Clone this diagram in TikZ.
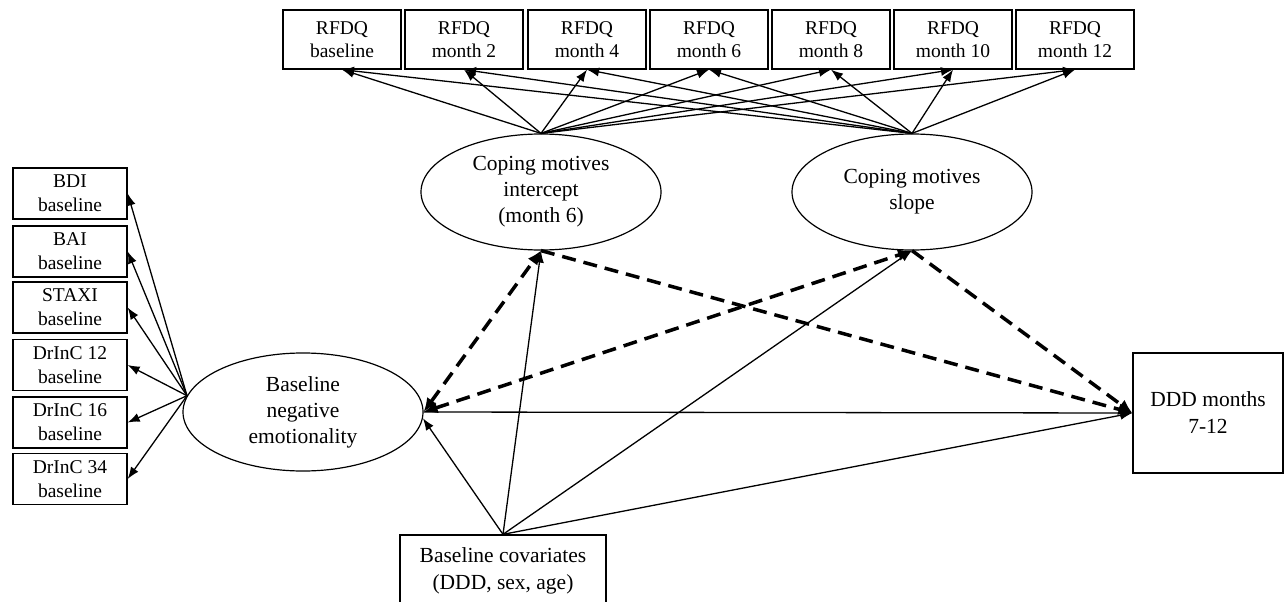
\documentclass[tikz,border=0pt]{standalone}
\usepackage{fontspec}
\setmainfont{Liberation Serif}
\usetikzlibrary{shapes.geometric,arrows.meta}

\begin{document}
\begin{tikzpicture}[x=1pt,y=-1pt,
  rfdq/.style={draw,line width=1.3pt,minimum width=118pt,minimum height=59pt,inner sep=0pt,align=center,font=\fontsize{19.5}{23}\selectfont},
  indic/.style={draw,line width=1.3pt,minimum width=114pt,minimum height=51pt,inner sep=0pt,align=center,font=\fontsize{19.5}{24}\selectfont},
  latent/.style={draw,ellipse,line width=1.2pt,minimum width=240pt,minimum height=116pt,inner sep=0pt,align=center,font=\fontsize{21.5}{26}\selectfont},
  bigbox/.style={draw,line width=1.3pt,inner sep=0pt,align=center,font=\fontsize{21.5}{27}\selectfont},
  path/.style={line width=1.3pt,-{Latex[length=12pt,width=9pt]}},
  medpath/.style={line width=3.5pt,dash pattern=on 14pt off 8pt,-{Latex[length=14pt,width=12pt]}},
  twoway/.style={medpath,{Latex[length=14pt,width=12pt]}-{Latex[length=14pt,width=12pt]}}]
\useasboundingbox (0,0) rectangle (1285,602);

% RFDQ waves
\node[rfdq] (r0) at (342,39.5) {RFDQ\\baseline};
\node[rfdq] (r2) at (464,39.5) {RFDQ\\month 2};
\node[rfdq] (r4) at (587,39.5) {RFDQ\\month 4};
\node[rfdq] (r6) at (709,39.5) {RFDQ\\month 6};
\node[rfdq] (r8) at (831,39.5) {RFDQ\\month 8};
\node[rfdq] (r10) at (953,39.5) {RFDQ\\month 10};
\node[rfdq] (r12) at (1075,39.5) {RFDQ\\month 12};

% growth factors
\node[latent] (icpt) at (541,192) {Coping motives\\intercept\\(month 6)};
\node[latent] (slope) at (912,192) {Coping motives\\slope};

% negative emotionality
\node[latent,minimum height=118pt] (negemo) at (303,412) {Baseline\\negative\\emotionality};
\node[indic] (bdi) at (70,193.5) {BDI\\baseline};
\node[indic] (bai) at (70,251.5) {BAI\\baseline};
\node[indic] (staxi) at (70,307.5) {STAXI\\baseline};
\node[indic] (dr12) at (70,365) {DrInC 12\\baseline};
\node[indic] (dr16) at (70,422.5) {DrInC 16\\baseline};
\node[indic] (dr34) at (70,479) {DrInC 34\\baseline};

% outcome and covariates
\node[bigbox,minimum width=150pt,minimum height=120pt] (ddd) at (1208,413) {DDD months\\7-12};
\node[bigbox,minimum width=206pt,minimum height=71pt] (cov) at (503,570.5) {Baseline covariates\\(DDD, sex, age)};

% loadings
\draw[path] (icpt.north) -- (r0.south);
\draw[path] (icpt.north) -- (r2.south);
\draw[path] (icpt.north) -- (r4.south);
\draw[path] (icpt.north) -- (r6.south);
\draw[path] (icpt.north) -- (r8.south);
\draw[path] (icpt.north) -- (r10.south);
\draw[path] (icpt.north) -- (r12.south);
\draw[path] (slope.north) -- (r0.south);
\draw[path] (slope.north) -- (r2.south);
\draw[path] (slope.north) -- (r4.south);
\draw[path] (slope.north) -- (r6.south);
\draw[path] (slope.north) -- (r8.south);
\draw[path] (slope.north) -- (r10.south);
\draw[path] (slope.north) -- (r12.south);
\draw[path] (negemo.172) -- (bdi.east);
\draw[path] (negemo.172) -- (bai.east);
\draw[path] (negemo.172) -- (staxi.east);
\draw[path] (negemo.172) -- (dr12.east);
\draw[path] (negemo.172) -- (dr16.east);
\draw[path] (negemo.172) -- (dr34.east);

% covariates
\draw[path] (cov.north) -- (negemo.-3);
\draw[path] (cov.north) -- (icpt.south);
\draw[path] (cov.north) -- (slope.south);
\draw[path] (cov.north) -- (ddd.west);

% direct and mediated paths
\draw[path] (negemo.east) -- (ddd.west);
\draw[twoway] (negemo.east) -- (icpt.south);
\draw[twoway] (negemo.east) -- (slope.south);
\draw[medpath] (icpt.south) -- (ddd.west);
\draw[medpath] (slope.south) -- (ddd.west);
\end{tikzpicture}
\end{document}
